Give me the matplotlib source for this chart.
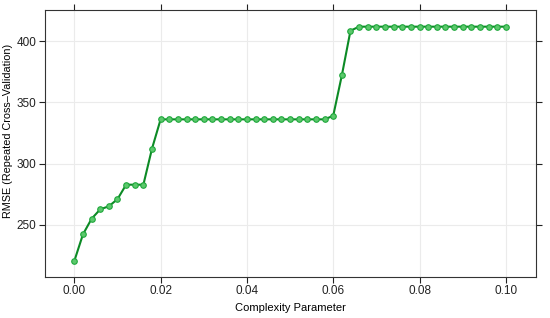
import matplotlib.pyplot as plt
import numpy as np

plt.rcParams['font.family'] = ['Liberation Sans', 'DejaVu Sans']

# complexity parameter grid and resampled RMSE
cp = [round(0.002 * i, 3) for i in range(51)]
rmse = [220.6, 242.3, 255.0, 262.7, 265.2, 271.0, 282.8, 282.8, 282.8, 312.2,
        336.1] + [336.1] * 19 + [339.0, 372.0, 408.4] + [411.7] * 18

fig = plt.figure(figsize=(5.5, 3.18), dpi=100)
ax = fig.add_axes([45 / 550, 41 / 318, 491 / 550, 267 / 318])

ax.grid(True, color='#ebebeb', linewidth=0.8)
ax.set_axisbelow(True)
ax.plot(cp, rmse, color='#0c8a25', linewidth=1.5, zorder=2)
ax.plot(cp, rmse, linestyle='none', marker='o', markersize=4,
        markerfacecolor='#5cc86c', markeredgecolor='#1fa83c',
        markeredgewidth=0.8, zorder=3)

ax.set_xlim(-0.0068, 0.107)
ax.set_ylim(207.5, 425.3)
ax.set_xticks([0.00, 0.02, 0.04, 0.06, 0.08, 0.10])
ax.set_yticks([250, 300, 350, 400])
ax.tick_params(direction='out', top=True, right=True, labelsize=8.5,
               length=4, width=0.8, pad=2, colors='#222222')
for s in ax.spines.values():
    s.set_color('#333333')
    s.set_linewidth(0.8)

ax.set_xlabel('Complexity Parameter', fontsize=8)
ax.set_ylabel('RMSE (Repeated Cross\u2013Validation)', fontsize=7.8)
ax.yaxis.set_label_coords(-0.065, 0.547)

fig.savefig('out.png', dpi=100)
